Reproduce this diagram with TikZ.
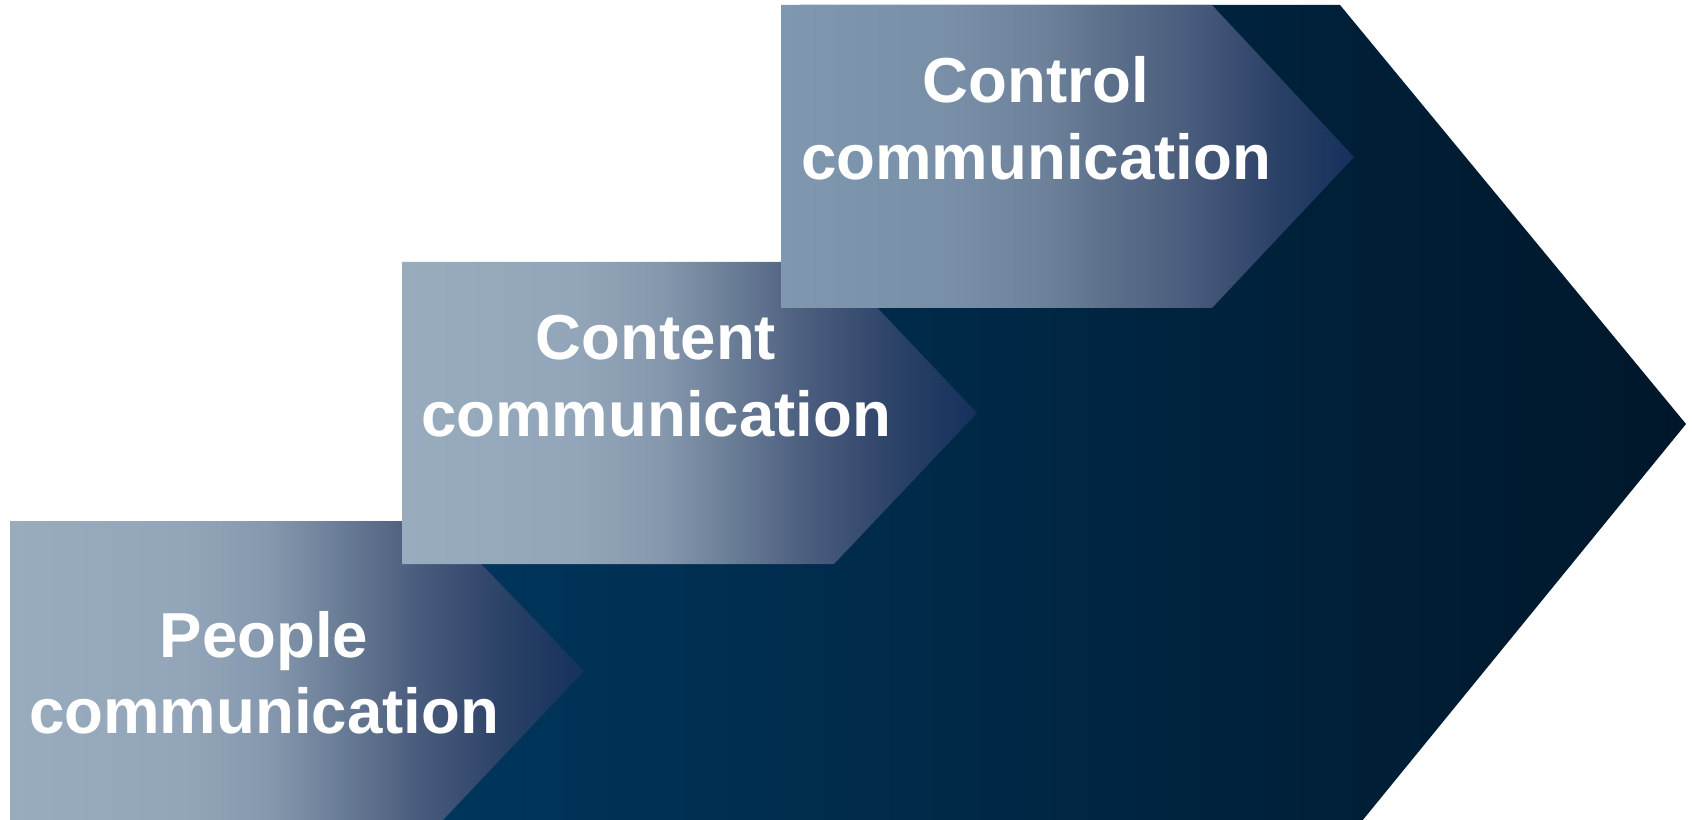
\documentclass[tikz,border=0pt]{standalone}
\usepackage{fontspec}
\setmainfont{Liberation Sans}
\definecolor{pA}{HTML}{98ACBE}
\definecolor{pA2}{HTML}{93A6B9}
\definecolor{pB}{HTML}{8698AD}
\definecolor{pB2}{HTML}{6B7E97}
\definecolor{pC}{HTML}{4C5E7E}
\definecolor{pC2}{HTML}{2D4368}
\definecolor{pD}{HTML}{14315C}
\definecolor{qA}{HTML}{7F98AF}
\definecolor{qA2}{HTML}{788FA7}
\definecolor{qB}{HTML}{6E839B}
\definecolor{qB2}{HTML}{5C708B}
\definecolor{darkL}{HTML}{00365D}
\definecolor{darkR}{HTML}{00172A}
\pgfdeclarehorizontalshading{lightbox}{100bp}{color(0bp)=(pA); color(25bp)=(pA); color(40bp)=(pA2); color(47.5bp)=(pB); color(53.5bp)=(pB2); color(60bp)=(pC); color(67.5bp)=(pC2); color(75bp)=(pD); color(100bp)=(pD)}
\pgfdeclarehorizontalshading{topbox}{100bp}{color(0bp)=(qA); color(25bp)=(qA); color(40bp)=(qA2); color(47.5bp)=(qB); color(53.5bp)=(qB2); color(60bp)=(pC); color(67.5bp)=(pC2); color(75bp)=(pD); color(100bp)=(pD)}
\tikzset{
  lbl/.style={text=white, font=\bfseries\fontsize{36.2}{43}\selectfont, anchor=base, inner sep=0pt},
}
\begin{document}
\begin{tikzpicture}[x=0.02cm,y=-0.02cm]
\useasboundingbox (0,0) rectangle (1692,820);
% big dark chevron (hidden parts lie under the step boxes)
\shade[left color=darkL, right color=darkR]
  (800,5) -- (1340,5) -- (1686,424) -- (1362,821) -- (420,821) -- (420,540)
  -- (800,540) -- (800,300) -- cycle;
% step boxes
\shade[shading=lightbox] (10,521) -- (440,521) -- (584,671) -- (442,821) -- (10,821) -- cycle;
\shade[shading=lightbox] (402,262) -- (834,262) -- (977,413) -- (834,564) -- (402,564) -- cycle;
\shade[shading=topbox] (781,5) -- (1212,5) -- (1354,157) -- (1212,308) -- (781,308) -- cycle;
% labels
\node[lbl] (peopleA) at (264,657) {People};
\node[lbl] (peopleB) at (264,733) {communication};
\node[lbl] (contentA) at (656,360) {Content};
\node[lbl] (contentB) at (656,437) {communication};
\node[lbl] (controlA) at (1036,103) {Control};
\node[lbl] (controlB) at (1036,180) {communication};
\end{tikzpicture}
\end{document}
